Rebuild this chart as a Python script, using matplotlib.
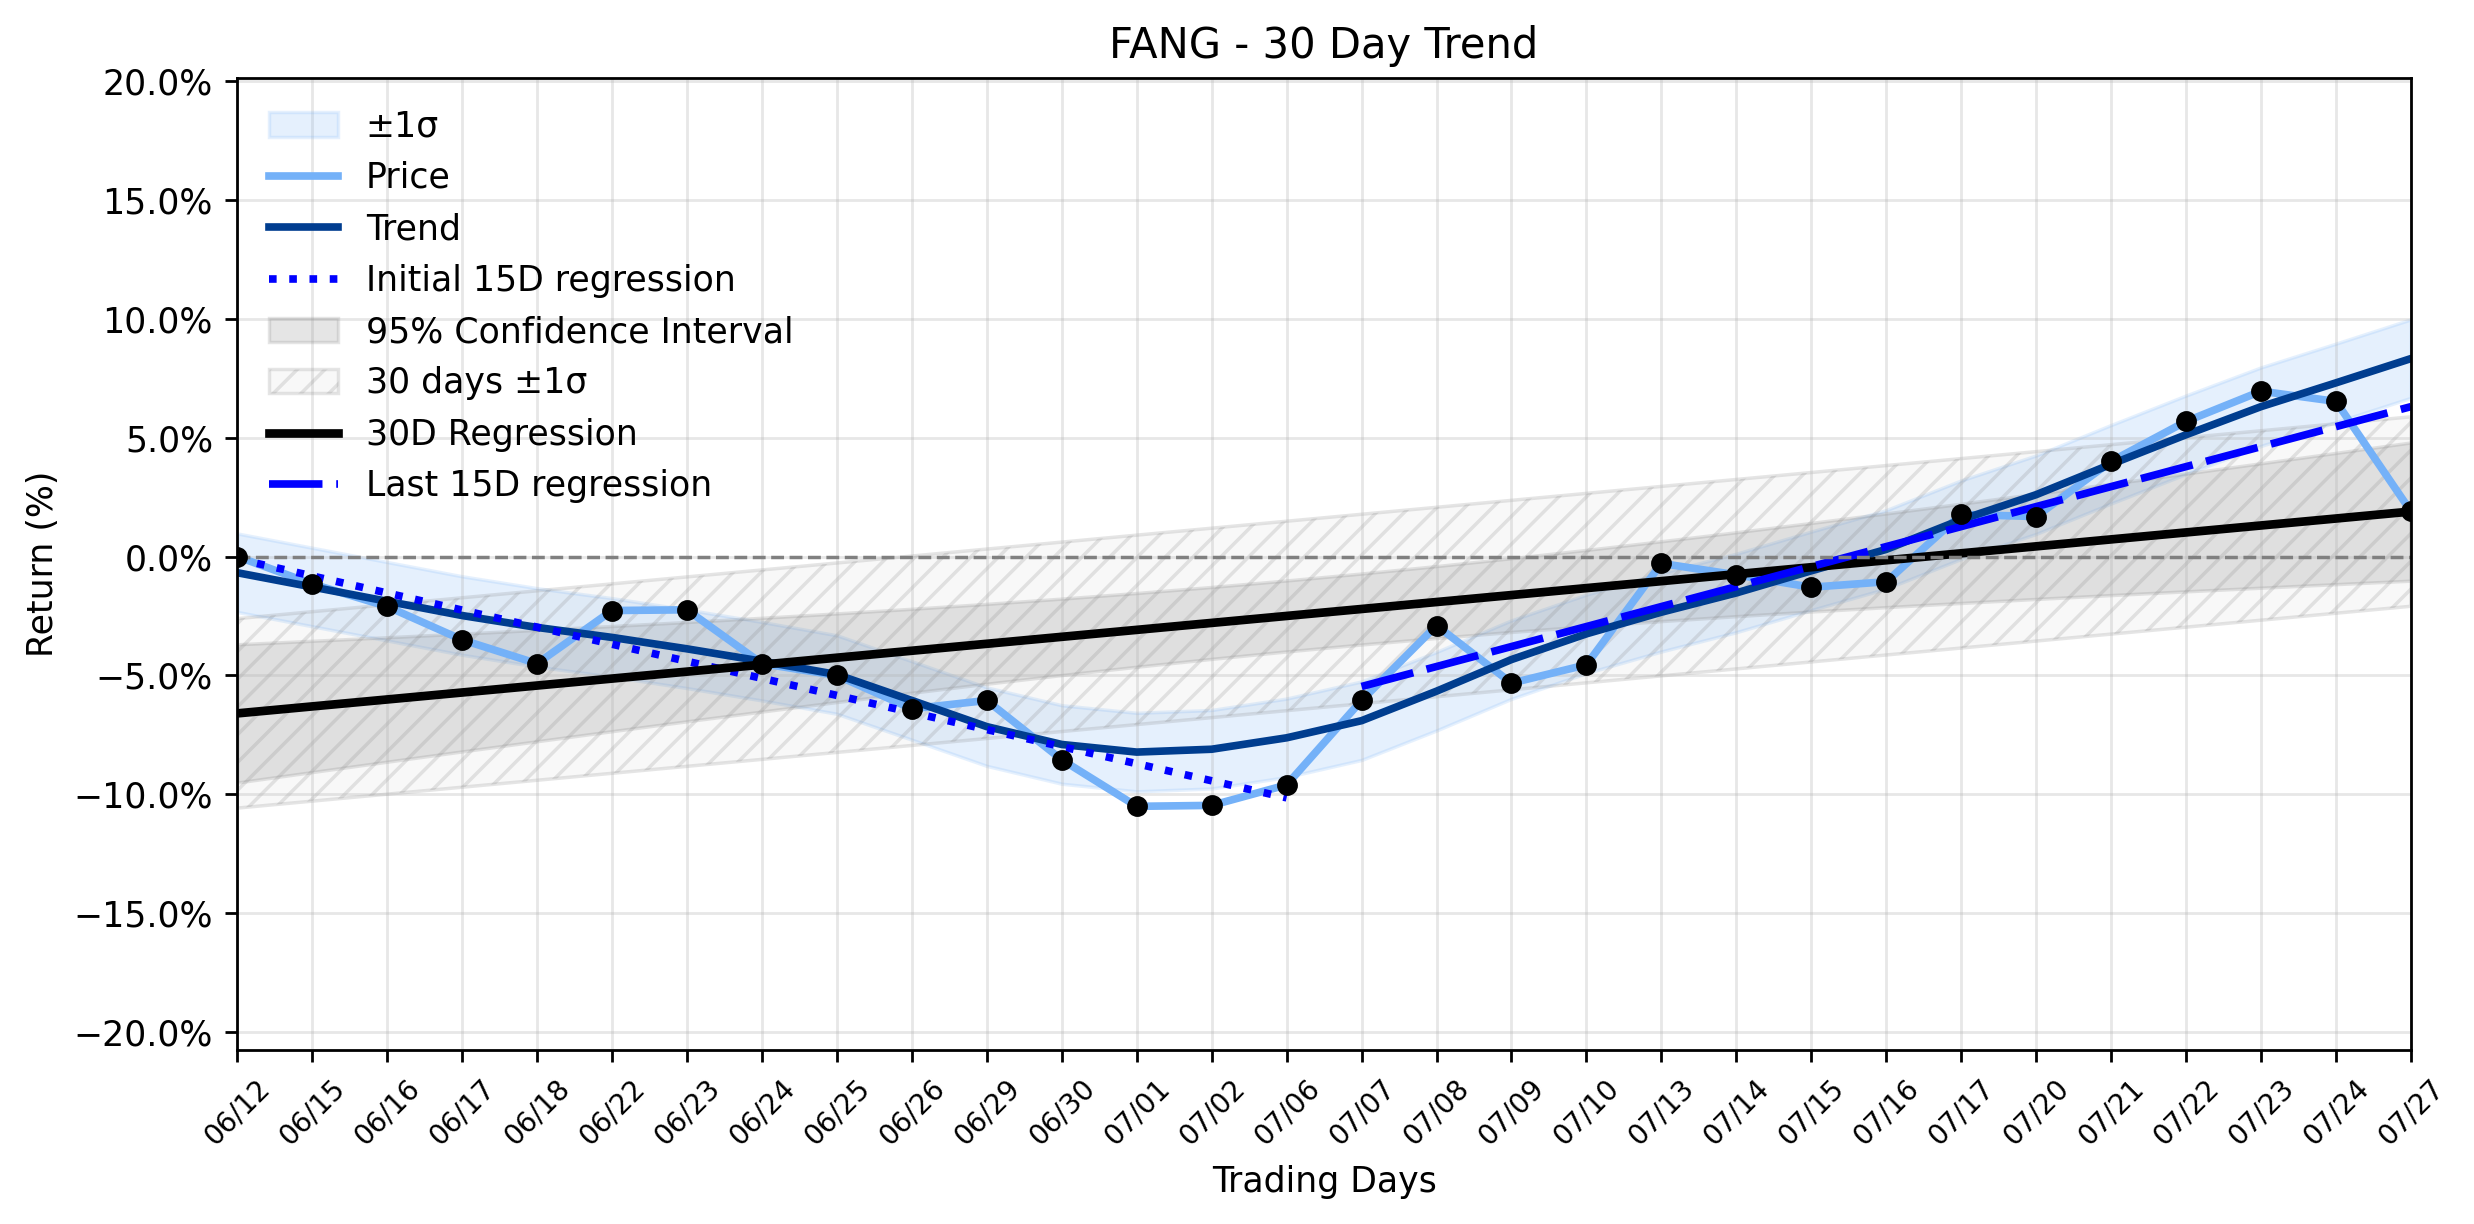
import numpy as np
import matplotlib
matplotlib.use("Agg")
import matplotlib.pyplot as plt
from matplotlib.ticker import PercentFormatter

# ---- data ----
dates = ["06/12", "06/15", "06/16", "06/17", "06/18", "06/22", "06/23", "06/24",
         "06/25", "06/26", "06/29", "06/30", "07/01", "07/02", "07/06", "07/07",
         "07/08", "07/09", "07/10", "07/13", "07/14", "07/15", "07/16", "07/17",
         "07/20", "07/21", "07/22", "07/23", "07/24", "07/27"]

price = [0.0, -1.15, -2.1, -3.5, -4.5, -2.27, -2.24, -4.5, -5.0, -6.4,
         -6.05, -8.54, -10.5, -10.46, -9.6, -6.05, -2.9, -5.32, -4.55, -0.29,
         -0.77, -1.29, -1.06, 1.77, 1.68, 4.0, 5.68, 6.95, 6.52, 1.9]

trend = [-0.68, -1.28, -1.88, -2.48, -2.98, -3.4, -3.88, -4.40, -4.96, -6.05,
         -7.15, -7.9, -8.22, -8.1, -7.62, -6.9, -5.66, -4.33, -3.25, -2.34,
         -1.53, -0.6, 0.3, 1.55, 2.6, 3.88, 5.12, 6.3, 7.3, 8.32]

trend_sigma = 1.65      # width of the ±1σ band around the trend (%)
t_value = 2.048         # t(0.975, 28) for the 95% confidence interval
half = 15               # length of the initial / last regression windows

# ---- derived ----
x = np.arange(len(dates))
p = np.array(price)
tr = np.array(trend)
n = len(x)

b30, a30 = np.polyfit(x, p, 1)
reg30 = a30 + b30 * x
resid = p - reg30
s30 = np.sqrt(np.sum(resid ** 2) / (n - 2))
sxx = np.sum((x - x.mean()) ** 2)
ci = t_value * s30 * np.sqrt(1.0 / n + (x - x.mean()) ** 2 / sxx)

xi = x[:half]
bi, ai = np.polyfit(xi, p[:half], 1)
xl = x[-half:]
bl, al = np.polyfit(xl, p[-half:], 1)

price_color = "#74b1f8"
trend_color = "#003d8f"

fig = plt.figure(figsize=(2474 / 250, 1224 / 250), dpi=250)
ax = fig.add_axes([0.0959, 0.1422, 0.9745 - 0.0959, 0.936 - 0.1422])

ax.fill_between(x, tr - trend_sigma, tr + trend_sigma, color=price_color,
                alpha=0.18, label="±1σ")
ax.plot(x, p, color=price_color, lw=2.2, label="Price")
ax.plot(x, tr, color=trend_color, lw=2.2, label="Trend")
ax.plot(xi, ai + bi * xi, color="blue", lw=2.2, ls=":", label="Initial 15D regression")
ax.fill_between(x, reg30 - ci, reg30 + ci, color="gray", alpha=0.2,
                label="95% Confidence Interval")
ax.fill_between(x, reg30 - s30, reg30 + s30, facecolor=(0.5, 0.5, 0.5, 0.05),
                edgecolor=(0.5, 0.5, 0.5, 0.2), hatch="///", lw=1,
                label="30 days ±1σ")
ax.plot(x, reg30, color="black", lw=2.5, label="30D Regression")
ax.plot(xl, al + bl * xl, color="blue", lw=2.2, dashes=(7, 1.8),
        label="Last 15D regression")
ax.plot(x, p, "o", color="black", ms=5, zorder=5)
ax.axhline(0, color="gray", ls="--", lw=1)

ax.set_xlim(0, n - 1)
ax.set_ylim(-20.74, 20.1)
ax.set_yticks(np.arange(-20, 21, 5))
ax.yaxis.set_major_formatter(PercentFormatter(xmax=100, decimals=1))
ax.set_xticks(x)
ax.set_xticklabels(dates, rotation=45, fontsize=8)
ax.grid(True, alpha=0.3)
ax.set_title("FANG - 30 Day Trend", fontsize=12)
ax.set_xlabel("Trading Days")
ax.set_ylabel("Return (%)")
ax.legend(loc="upper left", frameon=False, fontsize=10)

fig.savefig("out.png", dpi=250)
